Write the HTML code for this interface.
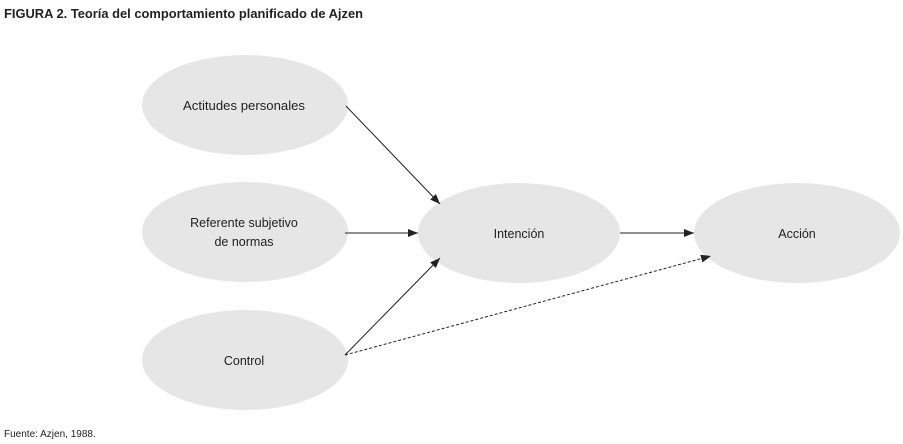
<!DOCTYPE html>
<html><head><meta charset="utf-8"><style>
html,body{margin:0;padding:0;background:#fff;}
svg{display:block;}
</style></head><body>
<svg width="903" height="444" viewBox="0 0 903 444" xmlns="http://www.w3.org/2000/svg" font-family="Liberation Sans, sans-serif">
<defs>
<marker id="a" markerWidth="10" markerHeight="8" refX="10" refY="4" orient="auto" markerUnits="userSpaceOnUse">
<path d="M0,0 L10,4 L0,8 z" fill="#222"/>
</marker>
</defs>
<text x="4" y="18" font-size="12.5" font-weight="bold" fill="#222" textLength="359" lengthAdjust="spacingAndGlyphs">FIGURA 2. Teoría del comportamiento planificado de Ajzen</text>
<g fill="#e6e6e6">
<ellipse cx="245" cy="105" rx="103" ry="50"/>
<ellipse cx="245" cy="232" rx="103" ry="50"/>
<ellipse cx="245" cy="360" rx="103" ry="50"/>
<ellipse cx="519" cy="233" rx="101" ry="50"/>
<ellipse cx="797" cy="233" rx="103" ry="50"/>
</g>
<g font-size="12.5" fill="#222" text-anchor="middle">
<text x="244" y="110" textLength="122" lengthAdjust="spacingAndGlyphs">Actitudes personales</text>
<text x="244" y="227">Referente subjetivo</text>
<text x="244" y="246">de normas</text>
<text x="244" y="365">Control</text>
<text x="519" y="238">Intención</text>
<text x="797" y="238">Acción</text>
</g>
<g stroke="#222" stroke-width="1" fill="none">
<line x1="346" y1="106" x2="440" y2="204" marker-end="url(#a)"/>
<line x1="345" y1="233" x2="418" y2="233" marker-end="url(#a)"/>
<line x1="345" y1="355" x2="440" y2="258" marker-end="url(#a)"/>
<line x1="620" y1="233" x2="694" y2="233" marker-end="url(#a)"/>
<line x1="345" y1="355" x2="711" y2="256" stroke-dasharray="3,2" marker-end="url(#a)"/>
</g>
<text x="4" y="437" font-size="10" fill="#222">Fuente: Azjen, 1988.</text>
</svg>
</body></html>
